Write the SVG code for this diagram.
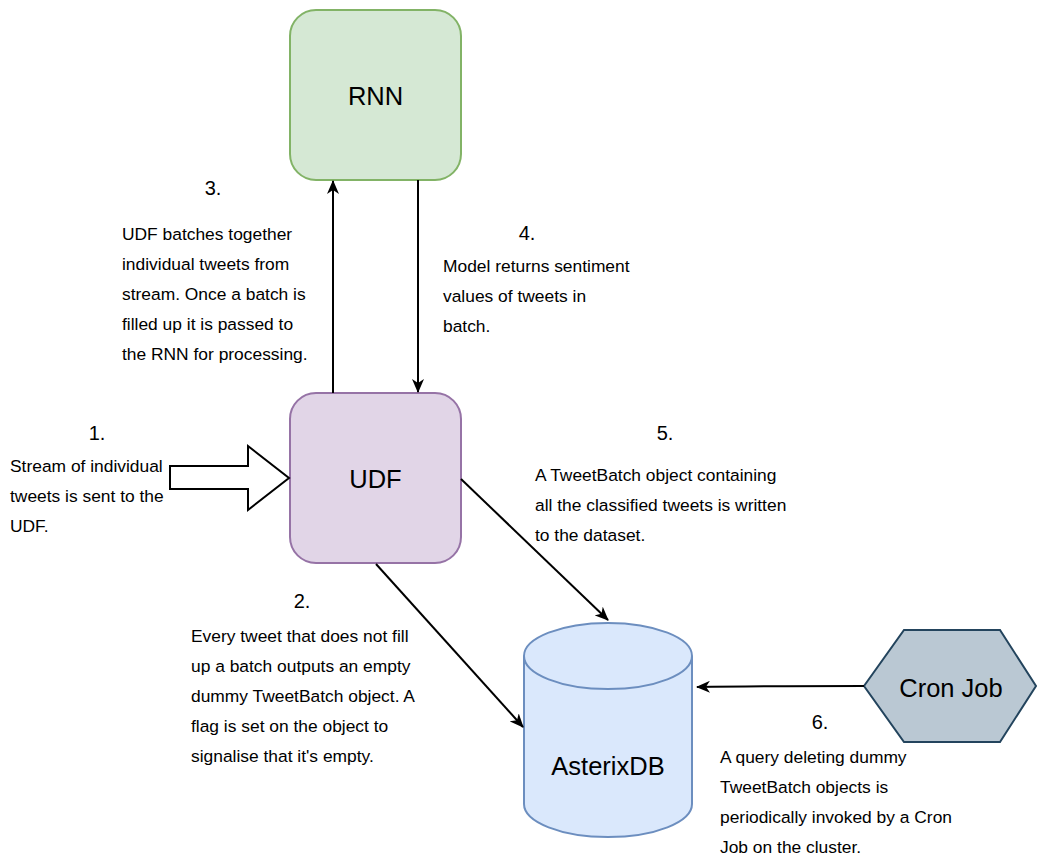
<svg xmlns="http://www.w3.org/2000/svg" width="1041" height="858" viewBox="0 0 1041 858">
<defs>
<style>
.t{font-family:"Liberation Sans",Arial,sans-serif;font-size:17.4px;fill:#000}
.n{font-family:"Liberation Sans",Arial,sans-serif;font-size:20px;fill:#000;text-anchor:middle}
.h{font-family:"Liberation Sans",Arial,sans-serif;font-size:25.5px;fill:#000;text-anchor:middle}
.c{stroke:#000;stroke-width:2;fill:none}
</style>
<marker id="ah" viewBox="0 0 14 12" refX="13" refY="6" markerWidth="14" markerHeight="12" markerUnits="userSpaceOnUse" orient="auto">
<path d="M0,0 L14,6 L0,12 L4,6 z" fill="#000"/>
</marker>
</defs>
<rect width="1041" height="858" fill="#fff"/>
<g id="rnn">
<rect x="290" y="10" width="171" height="170" rx="26" fill="#d5e8d4" stroke="#82b366" stroke-width="2"/>
<text class="h" x="375.5" y="105">RNN</text>
</g>
<g id="udf">
<rect x="290" y="393" width="171" height="170" rx="26" fill="#e1d5e7" stroke="#9673a6" stroke-width="2"/>
<text class="h" x="375.5" y="488">UDF</text>
</g>
<g id="asterixdb">
<path d="M524,656 A84,33 0 0 1 692,656 L692,804 A84,33 0 0 1 524,804 Z" fill="#dae8fc" stroke="#6c8ebf" stroke-width="2"/>
<path d="M524,656 A84,33 0 0 0 692,656" fill="none" stroke="#6c8ebf" stroke-width="2"/>
<text class="h" x="608" y="775">AsterixDB</text>
</g>
<g id="cronjob">
<polygon points="864,686 904,630 1000,630 1036,686 1000,742 904,742" fill="#bac8d3" stroke="#23445d" stroke-width="2"/>
<text class="h" x="951" y="697">Cron Job</text>
</g>
<g id="stream-arrow">
<polygon points="170,466 248,466 248,446 289,478 248,510 248,489 170,489" fill="#fff" stroke="#000" stroke-width="2"/>
</g>
<g id="connectors">
<line class="c" x1="333" y1="393" x2="333" y2="181" marker-end="url(#ah)"/>
<line class="c" x1="418" y1="180" x2="418" y2="392" marker-end="url(#ah)"/>
<line class="c" x1="461" y1="479" x2="608" y2="620" marker-end="url(#ah)"/>
<line class="c" x1="376" y1="564" x2="523" y2="727" marker-end="url(#ah)"/>
<path class="c" d="M864,686 C800,686 760,686 697,687" marker-end="url(#ah)"/>
</g>
<g id="labels">
<text class="n" x="97" y="440">1.</text>
<text class="t" x="10" y="472">Stream of individual</text>
<text class="t" x="10" y="502">tweets is sent to the</text>
<text class="t" x="10" y="532">UDF.</text>

<text class="n" x="213" y="195">3.</text>
<text class="t" x="122" y="240">UDF batches together</text>
<text class="t" x="122" y="270">individual tweets from</text>
<text class="t" x="122" y="300">stream. Once a batch is</text>
<text class="t" x="122" y="330">filled up it is passed to</text>
<text class="t" x="122" y="360">the RNN for processing.</text>

<text class="n" x="527" y="240">4.</text>
<text class="t" x="443" y="272">Model returns sentiment</text>
<text class="t" x="443" y="302">values of tweets in</text>
<text class="t" x="443" y="332">batch.</text>

<text class="n" x="665" y="440">5.</text>
<text class="t" x="535" y="481">A TweetBatch object containing</text>
<text class="t" x="535" y="511">all the classified tweets is written</text>
<text class="t" x="535" y="541">to the dataset.</text>

<text class="n" x="302" y="608">2.</text>
<text class="t" x="191" y="642">Every tweet that does not fill</text>
<text class="t" x="191" y="672">up a batch outputs an empty</text>
<text class="t" x="191" y="702">dummy TweetBatch object. A</text>
<text class="t" x="191" y="732">flag is set on the object to</text>
<text class="t" x="191" y="762">signalise that it's empty.</text>

<text class="n" x="820" y="729">6.</text>
<text class="t" x="720" y="763">A query deleting dummy</text>
<text class="t" x="720" y="793">TweetBatch objects is</text>
<text class="t" x="720" y="823">periodically invoked by a Cron</text>
<text class="t" x="720" y="853">Job on the cluster.</text>
</g>
</svg>
